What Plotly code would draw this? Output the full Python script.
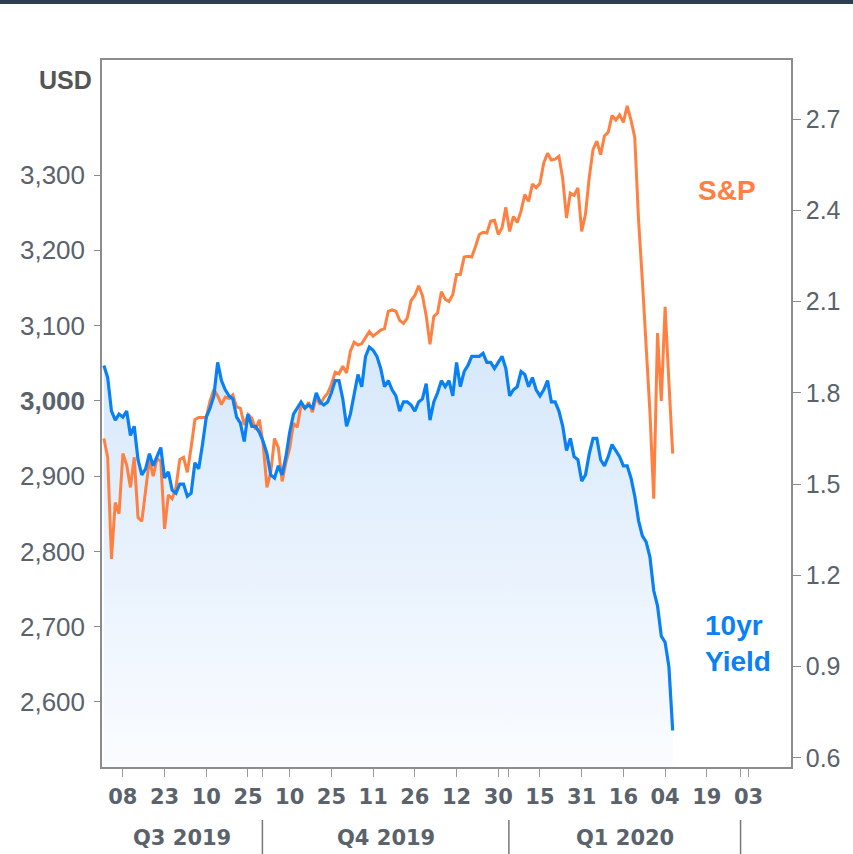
import plotly.graph_objects as go

# ---------------- data (one value per trading day, Aug 1 2019 -> Mar 6 2020) ----------------
spx = [2950, 2925, 2790, 2865, 2850, 2930, 2915, 2885, 2925, 2845,
       2840, 2885, 2922, 2900, 2923, 2920, 2830, 2875, 2870, 2885,
       2922, 2925, 2905, 2938, 2975, 2978, 2978, 2978, 3000, 3015,
       3007, 2995, 3005, 3003, 3008, 2992, 2990, 2968, 2982, 2977,
       2962, 2975, 2942, 2885, 2905, 2950, 2938, 2893, 2918, 2937,
       2970, 2965, 2995, 2990, 2998, 2985, 3005, 2995, 3004, 3010,
       3022, 3038, 3036, 3046, 3037, 3066, 3078, 3074, 3076, 3085,
       3092, 3086, 3090, 3094, 3096, 3119, 3121, 3119, 3107, 3103,
       3110, 3133, 3140, 3153, 3140, 3113, 3075, 3112, 3117, 3145,
       3135, 3132, 3141, 3168, 3168, 3191, 3192, 3191, 3205, 3221,
       3224, 3223, 3239, 3240, 3221, 3230, 3257, 3225, 3245, 3237,
       3252, 3274, 3265, 3288, 3283, 3289, 3316, 3329, 3320, 3321,
       3325, 3295, 3243, 3276, 3273, 3283, 3225, 3248, 3297, 3334,
       3345, 3327, 3352, 3357, 3379, 3373, 3380, 3370, 3392, 3373,
       3350, 3240, 3160, 3065, 2985, 2870, 3090, 3000, 3125, 3025, 2930]

yield10 = [1.89, 1.85, 1.74, 1.71, 1.73, 1.72, 1.74, 1.66, 1.69, 1.58,
           1.53, 1.55, 1.60, 1.56, 1.59, 1.62, 1.52, 1.54, 1.48, 1.47,
           1.50, 1.50, 1.46, 1.47, 1.57, 1.55, 1.63, 1.72, 1.75, 1.79,
           1.90, 1.84, 1.81, 1.79, 1.78, 1.72, 1.70, 1.64, 1.73, 1.69,
           1.69, 1.67, 1.64, 1.60, 1.53, 1.52, 1.56, 1.53, 1.59, 1.67,
           1.73, 1.75, 1.77, 1.75, 1.76, 1.75, 1.80, 1.77, 1.76, 1.77,
           1.80, 1.84, 1.84, 1.78, 1.69, 1.73, 1.79, 1.86, 1.82, 1.92,
           1.95, 1.94, 1.92, 1.88, 1.82, 1.84, 1.81, 1.79, 1.74, 1.77,
           1.77, 1.76, 1.74, 1.77, 1.78, 1.83, 1.71, 1.77, 1.80, 1.84,
           1.82, 1.84, 1.79, 1.90, 1.82, 1.87, 1.89, 1.92, 1.92, 1.92,
           1.93, 1.90, 1.90, 1.88, 1.90, 1.92, 1.88, 1.79, 1.81, 1.82,
           1.87, 1.86, 1.82, 1.85, 1.81, 1.79, 1.81, 1.84, 1.77, 1.77,
           1.74, 1.69, 1.61, 1.65, 1.59, 1.58, 1.51, 1.53, 1.60, 1.65,
           1.65, 1.58, 1.56, 1.59, 1.63, 1.61, 1.59, 1.56, 1.56, 1.52,
           1.46, 1.38, 1.33, 1.31, 1.26, 1.15, 1.10, 1.00, 0.98, 0.90, 0.69]

day_index = list(range(len(spx)))

tick_labels = ["08", "23", "10", "25", "10", "25", "11", "26", "12", "30",
               "15", "31", "16", "04", "19", "03"]
tick_index = [5, 16, 27, 38, 49, 60, 71, 82, 93, 104, 115, 126, 137, 148, 159, 170]

quarter_labels = ["Q3 2019", "Q4 2019", "Q1 2020"]
quarter_edges = [-0.5, 41.8, 106.8, 167.9]

spx_ticks = [2600, 2700, 2800, 2900, 3000, 3100, 3200, 3300]
yield_ticks = [0.6, 0.9, 1.2, 1.5, 1.8, 2.1, 2.4, 2.7]

ORANGE = "#FF8040"
BLUE = "#0A80F5"
GREY_TXT = "#5a626c"
AXIS = "#8c8c8c"

fig = go.Figure()

# gradient fill under yield (primary y = yield axis, right side)
fig.add_trace(go.Scatter(
    x=day_index, y=yield10, mode="lines", line=dict(width=0, color=BLUE),
    fill="tozeroy",
    fillgradient=dict(type="vertical", start=0.57, stop=1.95,
                      colorscale=[[0, "rgb(250,252,255)"], [1, "rgb(214,232,251)"]]),
    yaxis="y", hoverinfo="skip"))
fig.add_trace(go.Scatter(
    x=[183.1], y=[yield10[-1]], mode="markers", cliponaxis=False,
    marker=dict(symbol="diamond", size=11, color=BLUE), yaxis="y"))

# S&P on left axis
fig.add_trace(go.Scatter(
    x=day_index, y=spx, mode="lines", line=dict(color=ORANGE, width=3),
    yaxis="y2"))
fig.add_trace(go.Scatter(
    x=[-2.0], y=[spx[-1]], mode="markers", cliponaxis=False,
    marker=dict(symbol="diamond", size=12, color=ORANGE), yaxis="y2"))

# yield line on top
fig.add_trace(go.Scatter(
    x=day_index, y=yield10, mode="lines", line=dict(color=BLUE, width=3.2),
    yaxis="y3"))

all_ticks = sorted(tick_index + quarter_edges[1:])
all_text = []
for t in all_ticks:
    if t in tick_index:
        all_text.append("<b>" + tick_labels[tick_index.index(t)] + "</b>")
    else:
        all_text.append("")

yr = [0.570, 2.894]
fig.update_layout(
    width=853, height=854,
    margin=dict(l=102, r=55, t=60, b=87),
    paper_bgcolor="white", plot_bgcolor="white", showlegend=False,
    xaxis=dict(range=[-0.5, 181.2], tickvals=all_ticks, ticktext=all_text,
               ticks="outside", ticklen=8, tickcolor="#9a9a9a", tickwidth=1,
               showline=True, mirror=True, linecolor=AXIS, linewidth=1.5,
               showgrid=False, zeroline=False, ticklabelstandoff=2,
               tickfont=dict(family="DejaVu Sans", size=21, color=GREY_TXT)),
    yaxis=dict(side="right", range=yr, tickvals=yield_ticks,
               ticktext=["%.1f" % v for v in yield_ticks],
               ticks="outside", ticklen=8, tickcolor=AXIS,
               showline=True, mirror=True, linecolor=AXIS, linewidth=1.5,
               showgrid=False, zeroline=False,
               tickfont=dict(family="Liberation Sans", size=25, color=GREY_TXT)),
    yaxis2=dict(overlaying="y", side="left", range=[2513.6, 3452.8],
                tickvals=spx_ticks,
                ticktext=[("<b>{:,}</b>" if v == 3000 else "{:,}").format(v) for v in spx_ticks],
                ticks="outside", ticklen=6, tickcolor=AXIS, ticklabelstandoff=4,
                showline=True, linecolor=AXIS, linewidth=1.5,
                showgrid=False, zeroline=False,
                tickfont=dict(family="Liberation Sans", size=26, color=GREY_TXT)),
    yaxis3=dict(overlaying="y", range=yr, visible=False, anchor="x"),
)

ann = [
    dict(text="<b>USD</b>", x=-0.053, y=0.9717, xref="paper", yref="paper",
         showarrow=False, xanchor="center", yanchor="middle",
         font=dict(family="Liberation Sans", size=25, color="#555555")),
    dict(text="<b>S&P</b>", x=0.862, y=0.816, xref="paper", yref="paper",
         showarrow=False, xanchor="left", yanchor="middle",
         font=dict(family="Liberation Sans", size=28, color=ORANGE)),
    dict(text="<b>10yr<br>Yield</b>", x=0.873, y=0.174, xref="paper", yref="paper",
         showarrow=False, xanchor="left", yanchor="middle", align="left",
         font=dict(family="Liberation Sans", size=28, color=BLUE)),
]
for i, q in enumerate(quarter_labels):
    ann.append(dict(text="<b>" + q + "</b>",
                    x=(quarter_edges[i] + quarter_edges[i + 1]) / 2, y=-0.1004,
                    xref="x", yref="paper", showarrow=False,
                    xanchor="center", yanchor="middle",
                    font=dict(family="DejaVu Sans", size=21, color=GREY_TXT)))
fig.update_layout(annotations=ann)

shapes = [dict(type="rect", xref="paper", yref="paper", x0=-0.16, x1=1.09,
               y0=1.0792, y1=1.09, fillcolor="#2c3e50", line=dict(width=0))]
for e in quarter_edges[1:]:
    shapes.append(dict(type="line", xref="x", yref="paper", x0=e, x1=e,
                       y0=-0.075, y1=-0.125, line=dict(color="#777777", width=1.5)))
fig.update_layout(shapes=shapes)

fig.write_html("out.html", config={"displayModeBar": False},
               post_script="document.body.style.margin='0';document.body.style.overflow='hidden';")
